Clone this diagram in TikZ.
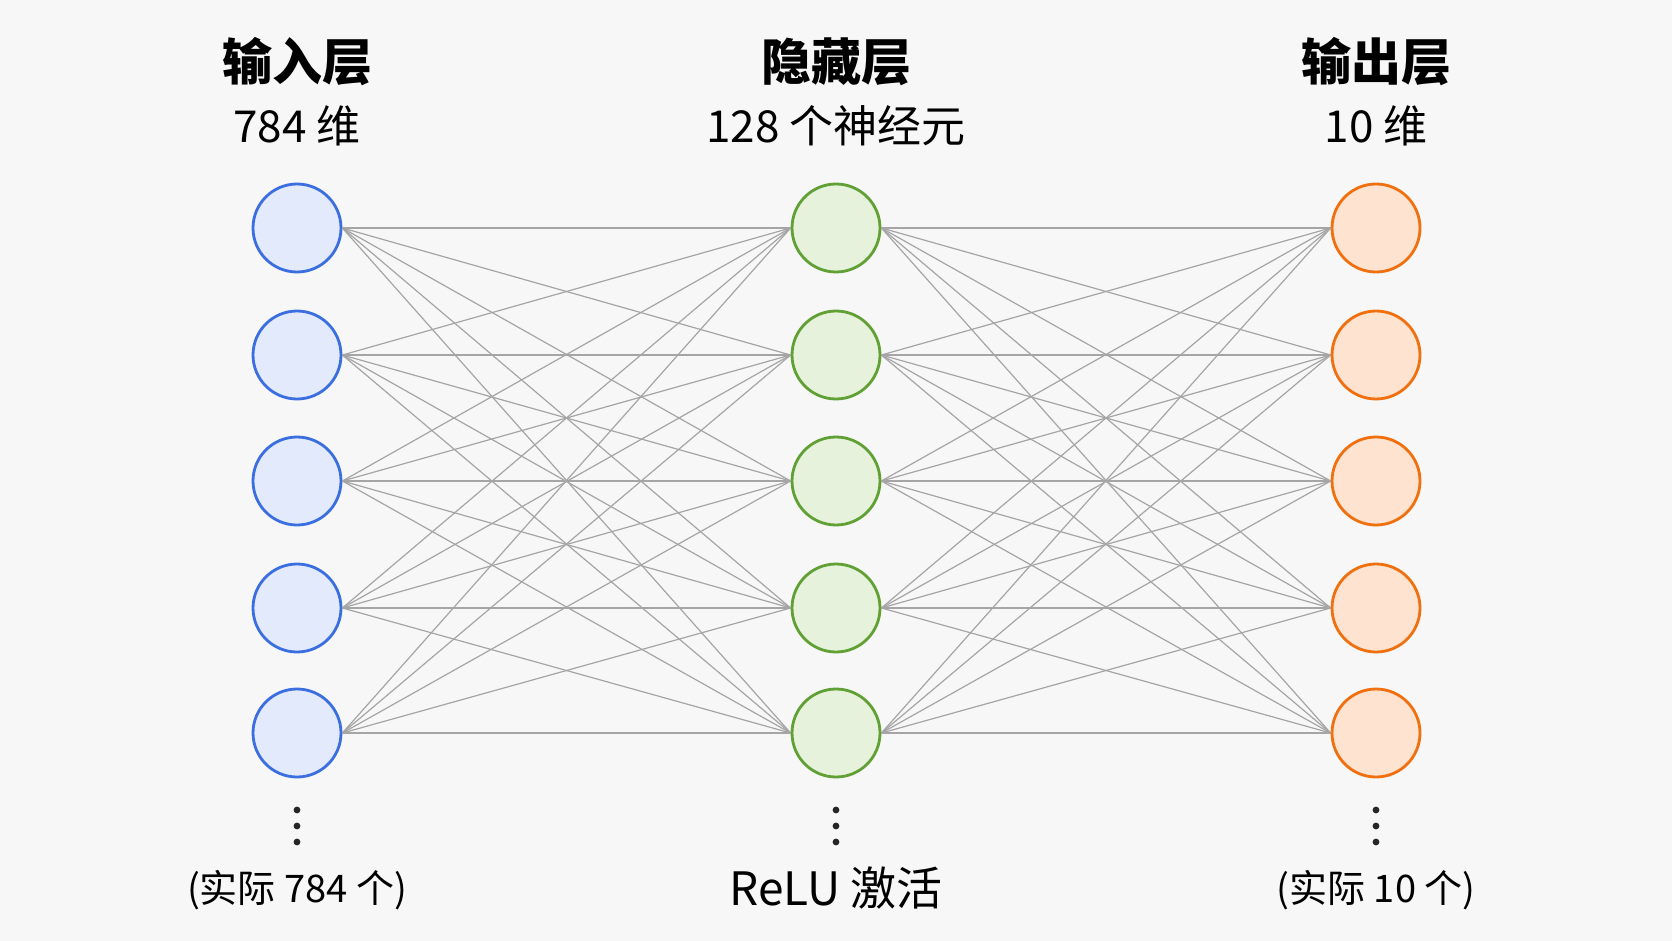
\documentclass[tikz,border=0pt]{standalone}
\usepackage{fontspec}
\setmainfont{Noto Sans CJK SC}
\begin{document}
\begin{tikzpicture}[x=1pt,y=-1pt,
  neuron/.style={circle,minimum size=88pt,inner sep=0pt,line width=2.8pt},
  inl/.style={neuron,draw={rgb,255:red,59;green,111;blue,224},fill={rgb,255:red,227;green,234;blue,251}},
  hid/.style={neuron,draw={rgb,255:red,96;green,160;blue,52},fill={rgb,255:red,230;green,242;blue,220}},
  outl/.style={neuron,draw={rgb,255:red,240;green,112;blue,16},fill={rgb,255:red,253;green,227;blue,208}},
  edge/.style={draw={rgb,255:red,165;green,165;blue,165},line width=1.2pt},
  title/.style={font=\bfseries\fontsize{50}{56}\selectfont},
  sub/.style={font=\fontsize{44}{50}\selectfont},
  bot/.style={font=\fontsize{38}{44}\selectfont},
  relu/.style={font=\fontsize{46}{52}\selectfont}]
\fill[white!97!black] (0,0) rectangle (1672,941);
\useasboundingbox (0,0) rectangle (1672,941);
\foreach \i/\y in {1/228,2/355,3/481,4/608,5/733}{
  \node[inl] (a\i) at (297,\y) {};
  \node[hid] (b\i) at (836,\y) {};
  \node[outl] (c\i) at (1376,\y) {};
}
\foreach \i in {1,...,5}{\foreach \j in {1,...,5}{
  \draw[edge] (a\i.east) -- (b\j.west);
  \draw[edge] (b\i.east) -- (c\j.west);
}}
\node[title] (t1) at (297,62) {输入层};
\node[sub] (s1) at (297,126) {784 维};
\node[title] (t2) at (836,62) {隐藏层};
\node[sub] (s2) at (836,126) {128 个神经元};
\node[title] (t3) at (1376,62) {输出层};
\node[sub] (s3) at (1376,126) {10 维};
\foreach \x in {297,836,1376}{
  \foreach \dy in {810,826,842}{\fill[black!85] (\x,\dy) circle (3.4pt);}
}
\node[bot] (u1) at (297,890) {(实际 784 个)};
\node[relu] (u2) at (836,888) {ReLU 激活};
\node[bot] (u3) at (1376,890) {(实际 10 个)};
\end{tikzpicture}
\end{document}
